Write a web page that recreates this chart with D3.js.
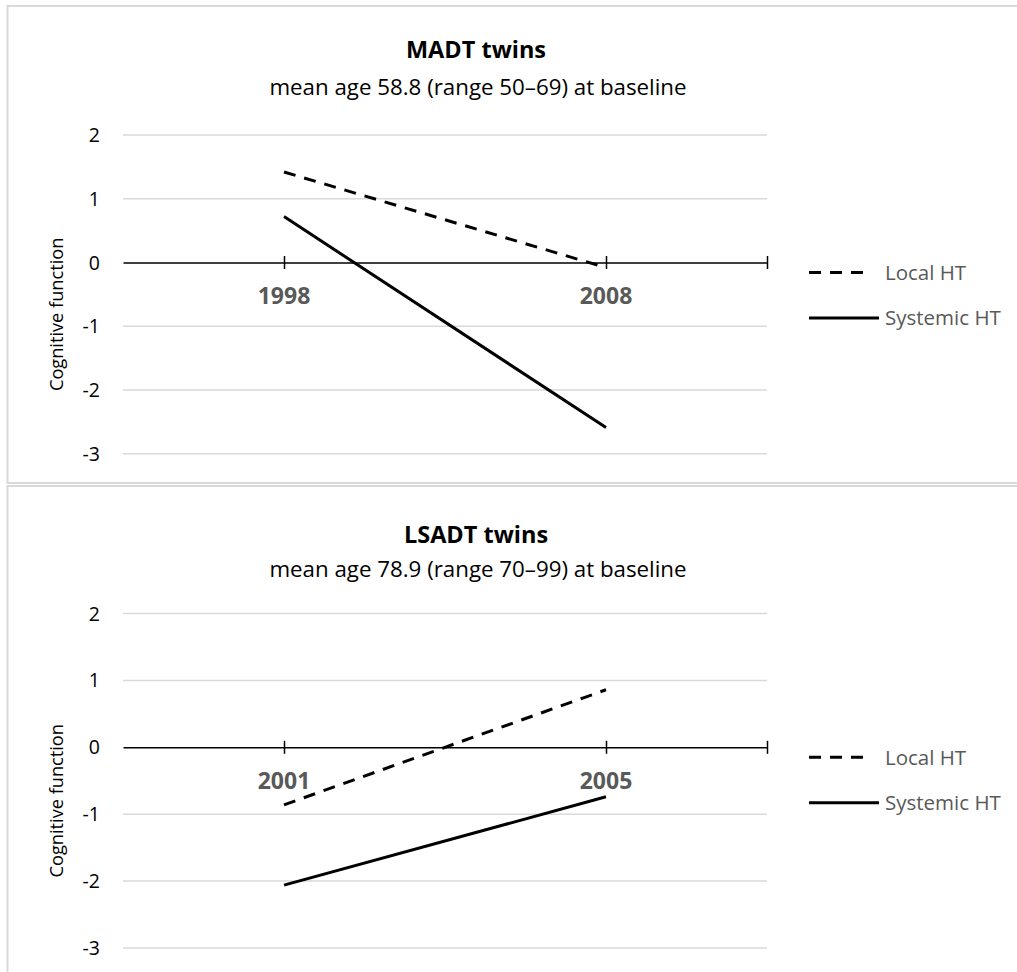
<!DOCTYPE html>
<html>
<head>
<meta charset="utf-8">
<script src="https://cdn.jsdelivr.net/npm/d3@7"></script>
<style>
  body { margin: 0; background: #fff; }
  svg text { font-family: "Open Sans", "Noto Sans", sans-serif; }
</style>
</head>
<body>
<div id="display"></div>
<script>
// data
const seriesNames = ["Local HT", "Systemic HT"];
const yTicks = [2, 1, 0, -1, -2, -3];

const madtTitle = "MADT twins";
const madtSubtitle = "mean age 58.8 (range 50\u201369) at baseline";
const madtYears = [1998, 2008];
const madtDomain = [1993, 2013];
const madtLocal = [1.42, -0.08];
const madtSystemic = [0.72, -2.59];

const lsadtTitle = "LSADT twins";
const lsadtSubtitle = "mean age 78.9 (range 70\u201399) at baseline";
const lsadtYears = [2001, 2005];
const lsadtDomain = [1999, 2007];
const lsadtLocal = [-0.86, 0.86];
const lsadtSystemic = [-2.06, -0.74];

const W = 1017, H = 972;
const svg = d3.select("#display").append("svg").attr("width", W).attr("height", H);

function drawPanel(top, boxH, shifts, yRange, title, subtitle, years, domain, local, systemic) {
  let g = svg.append("g").attr("transform", `translate(0,${top})`);

  g.append("rect")
    .attr("x", 7.5).attr("y", 0.5)
    .attr("width", W + 10).attr("height", boxH)
    .attr("fill", "#fff").attr("stroke", "#d9d9d9").attr("stroke-width", 2);

  let x = d3.scaleLinear().domain(domain).range([123, 767]);
  let y = d3.scaleLinear().domain([2, -3]).range(yRange);

  // gridlines
  g.append("g").selectAll("line").data(yTicks.filter(d => d !== 0)).join("line")
    .attr("x1", x.range()[0]).attr("x2", x.range()[1])
    .attr("y1", d => y(d)).attr("y2", d => y(d))
    .attr("stroke", "#d9d9d9").attr("stroke-width", 1.5);

  // y tick labels
  g.append("g").selectAll("text").data(yTicks).join("text")
    .attr("x", 100).attr("y", d => y(d))
    .attr("dy", "0.36em")
    .attr("text-anchor", "end")
    .attr("font-size", 19.5).attr("fill", "#000")
    .text(d => d);

  // horizontal axis at zero with crossing ticks
  let xAxis = d3.axisBottom(x)
    .tickValues(years.concat([domain[1]]))
    .tickSizeInner(13).tickSizeOuter(0)
    .tickFormat("");
  let ax = g.append("g").attr("transform", `translate(0,${y(0) - 6.5})`).call(xAxis);
  ax.select(".domain").attr("transform", "translate(0,6.5)").attr("stroke", "#000").attr("stroke-width", 1.5);
  ax.selectAll(".tick line").attr("stroke", "#000").attr("stroke-width", 1.5);

  // year labels
  g.append("g").selectAll("text").data(years).join("text")
    .attr("x", d => x(d)).attr("y", y(0) + 42)
    .attr("text-anchor", "middle")
    .attr("font-size", 23).attr("font-weight", "bold").attr("fill", "#595959")
    .text(d => d);

  let line = d3.line().x(d => x(d[0])).y(d => y(d[1]));
  let series = [
    { name: seriesNames[0], vals: local, dash: "12,9" },
    { name: seriesNames[1], vals: systemic, dash: null }
  ];
  g.append("g").selectAll("path").data(series).join("path")
    .attr("d", s => line(years.map((yr, i) => [yr, s.vals[i]])))
    .attr("fill", "none").attr("stroke", "#000").attr("stroke-width", 3)
    .attr("stroke-dasharray", s => s.dash);

  // titles
  g.append("text").attr("x", 476).attr("y", 52 + shifts[0])
    .attr("text-anchor", "middle").attr("font-size", 23.5).attr("font-weight", "bold")
    .attr("fill", "#000").text(title);
  g.append("text").attr("x", 478).attr("y", 89.5 + shifts[1])
    .attr("text-anchor", "middle").attr("font-size", 22.3)
    .attr("fill", "#000").text(subtitle);

  // y axis title
  g.append("text")
    .attr("transform", `translate(63,${(yRange[0] + yRange[1]) / 2 + 20}) rotate(-90)`)
    .attr("text-anchor", "middle").attr("font-size", 18.2).attr("fill", "#000")
    .text("Cognitive function");

  // legend
  let legendY = y(0) + 10;
  let leg = g.append("g").selectAll("g").data(series).join("g")
    .attr("transform", (s, i) => `translate(0,${legendY + i * 45.5})`);
  leg.append("line")
    .attr("x1", 809).attr("x2", s => s.dash ? 869 : 879)
    .attr("stroke", "#000").attr("stroke-width", 3)
    .attr("stroke-dasharray", s => s.dash);
  leg.append("text").attr("x", 885).attr("dy", "0.36em")
    .attr("font-size", 20.5).attr("fill", "#595959")
    .text(s => s.name);
}

drawPanel(5.5, 477, [0, 0], [135 - 5.5, 453.7 - 5.5], madtTitle, madtSubtitle,
  madtYears, madtDomain, madtLocal, madtSystemic);
drawPanel(485.5, 500, [5, 2], [613.5 - 485.5, 948 - 485.5], lsadtTitle, lsadtSubtitle,
  lsadtYears, lsadtDomain, lsadtLocal, lsadtSystemic);
</script>
</body>
</html>
